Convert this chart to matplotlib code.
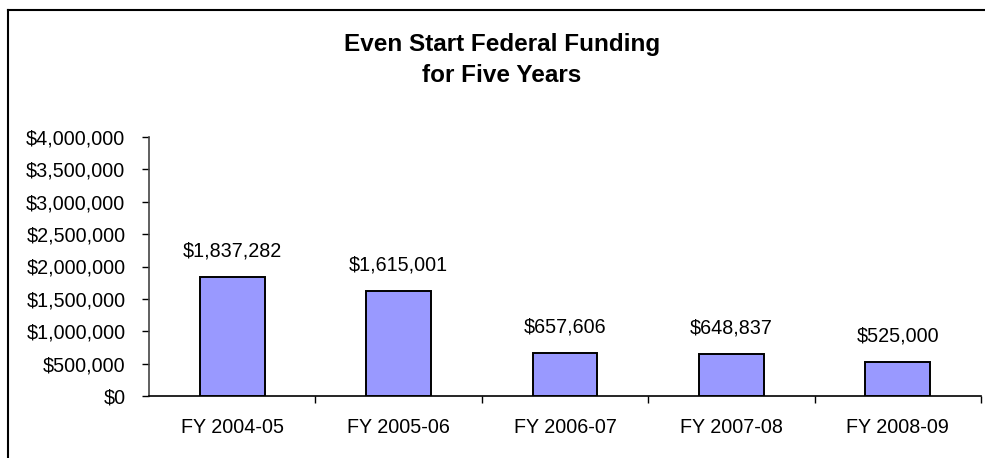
import matplotlib
matplotlib.use("Agg")
import matplotlib.pyplot as plt
from matplotlib.lines import Line2D
from matplotlib.ticker import FuncFormatter, FixedLocator

categories = ["FY 2004-05", "FY 2005-06", "FY 2006-07", "FY 2007-08", "FY 2008-09"]
funding = [1837282, 1615001, 657606, 648837, 525000]
yticks = [0, 500000, 1000000, 1500000, 2000000, 2500000, 3000000, 3500000, 4000000]
title = "Even Start Federal Funding\nfor Five Years"

plt.rcParams['font.family'] = ['Liberation Sans', 'DejaVu Sans']

fig = plt.figure(figsize=(9.85, 4.58), dpi=100)
ax = fig.add_axes([149/985, 1-396/458, (981-149)/985, (396-137)/458])

x = list(range(len(categories)))
ax.bar(x, funding, width=0.39, color="#9999FF", edgecolor="black", linewidth=1.4, zorder=3)

for xi, v in zip(x, funding):
    ax.annotate(f"${v:,.0f}", (xi, v), xytext=(0, 12), textcoords="offset points",
                ha="center", va="bottom", fontsize=14.2, color="black")

ax.set_xlim(-0.5, len(categories) - 0.5)
ax.set_ylim(0, 4000000)
ax.set_yticks(yticks)
ax.yaxis.set_major_formatter(FuncFormatter(lambda v, p: f"${v:,.0f}"))
ax.set_xticks(x)
ax.set_xticklabels(categories)
ax.xaxis.set_minor_locator(FixedLocator([i + 0.5 for i in x]))
ax.tick_params(axis="x", which="major", length=0, pad=16, labelsize=14.2)
ax.tick_params(axis="x", which="minor", length=5, width=1, direction="out")
ax.tick_params(axis="y", which="major", length=5, width=1, direction="out", pad=12, labelsize=14.2)

for s in ["top", "right"]:
    ax.spines[s].set_visible(False)
ax.spines["left"].set_color("#444444")
ax.spines["left"].set_linewidth(1.2)
ax.spines["bottom"].set_color("black")
ax.spines["bottom"].set_linewidth(1.2)

fig.text(502/985, 1 - 60/458, title, ha="center", va="center", fontsize=17.5,
         fontweight="bold", linespacing=1.4)

fig.add_artist(Line2D([8/985, 8/985], [0, 1 - 10/458], transform=fig.transFigure,
                      color="black", linewidth=1.5))
fig.add_artist(Line2D([8/985, 1], [1 - 10/458, 1 - 10/458], transform=fig.transFigure,
                      color="black", linewidth=1.5))

fig.savefig("out.png", dpi=100, facecolor="white")
